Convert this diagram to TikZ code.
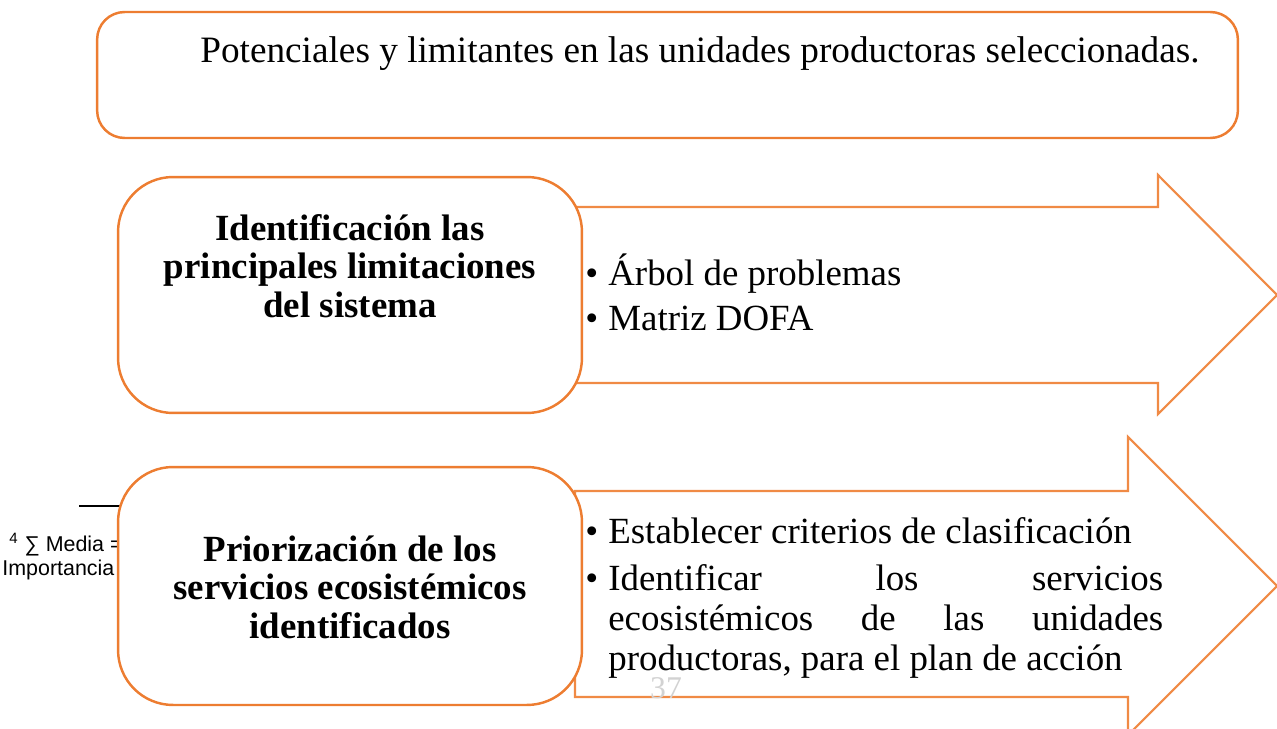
\documentclass[tikz,border=0pt]{standalone}
\usepackage{fontspec}
\setmainfont{Liberation Serif}
\newfontfamily\notefont{Liberation Sans}
\definecolor{naranja}{HTML}{ED7D31}
\definecolor{flecha}{HTML}{F08A45}
\newcommand{\punto}[1]{\par\noindent\hangindent=0.46cm\hangafter=1\makebox[0.46cm][l]{•}#1\par}

\tikzset{
  caja/.style={draw=naranja, line width=1.4pt, fill=white, rounded corners=1.1cm, inner sep=0pt},
  flechabox/.style={draw=flecha, line width=1.2pt, fill=white, line join=miter},
  titulo/.style={font=\bfseries\fontsize{21}{21.9}\selectfont, align=center, inner sep=0pt},
  lista/.style={font=\fontsize{21}{22.7}\selectfont, text width=11.56cm, align=justify, inner sep=0pt},
  nota/.style={font=\notefont\fontsize{12.2}{14}\selectfont, inner sep=0pt, anchor=base west}
}

\begin{document}
\begin{tikzpicture}[x=0.02cm, y=-0.02cm]
    \useasboundingbox (0,0) rectangle (1277,729);
    \clip (0,0) rectangle (1277,729);

    % nota al pie, tapada por la caja
    \draw[line width=0.9pt] (79,506) -- (135,506);
    \node[nota] (nota1) at (9,551) {\textsuperscript{4} ∑ Media =};
    \node[nota] (nota2) at (2,575) {Importancia};

    % flechas
    \draw[flechabox] (575,207) -- (1158,207) -- (1158,175) -- (1277,295)
        -- (1158,414) -- (1158,383) -- (575,383) -- cycle;
    \draw[flechabox] (575,491) -- (1128,491) -- (1128,437) -- (1277,586)
        -- (1128,735) -- (1128,697) -- (575,697) -- cycle;

    \node[anchor=base, text=gray!35, font=\fontsize{18}{18}\selectfont] (pagina) at (666,698) {37};

    % cajas
    \node[caja, minimum width=22.82cm, minimum height=2.52cm, rounded corners=0.55cm] (marco) at (667.5,75) {};
    \node[caja, minimum width=9.28cm, minimum height=4.72cm] (limita) at (350,295) {};
    \node[caja, minimum width=9.28cm, minimum height=4.76cm] (prioriza) at (350,586) {};

    \node[anchor=base west, inner sep=0pt, font=\fontsize{21.2}{22}\selectfont] (tema) at (200,63)
        {Potenciales y limitantes en las unidades productoras seleccionadas.};
    \node[titulo] (limitatxt) at (350,266) {Identificación las\\principales limitaciones\\del sistema};
    \node[titulo] (priorizatxt) at (350,587) {Priorización de los\\servicios ecosistémicos\\identificados};

    \node[lista, anchor=west] (lista1) at (585,288) {%
        \punto{Árbol de problemas}\vspace{3pt}
        \punto{Matriz DOFA}};
    \node[lista, anchor=west] (lista2) at (585,591) {%
        \punto{Establecer criterios de clasificación}\vspace{4pt}
        \punto{Identificar los servicios\linebreak ecosistémicos de las unidades\linebreak productoras, para el plan de acción}};
\end{tikzpicture}
\end{document}
